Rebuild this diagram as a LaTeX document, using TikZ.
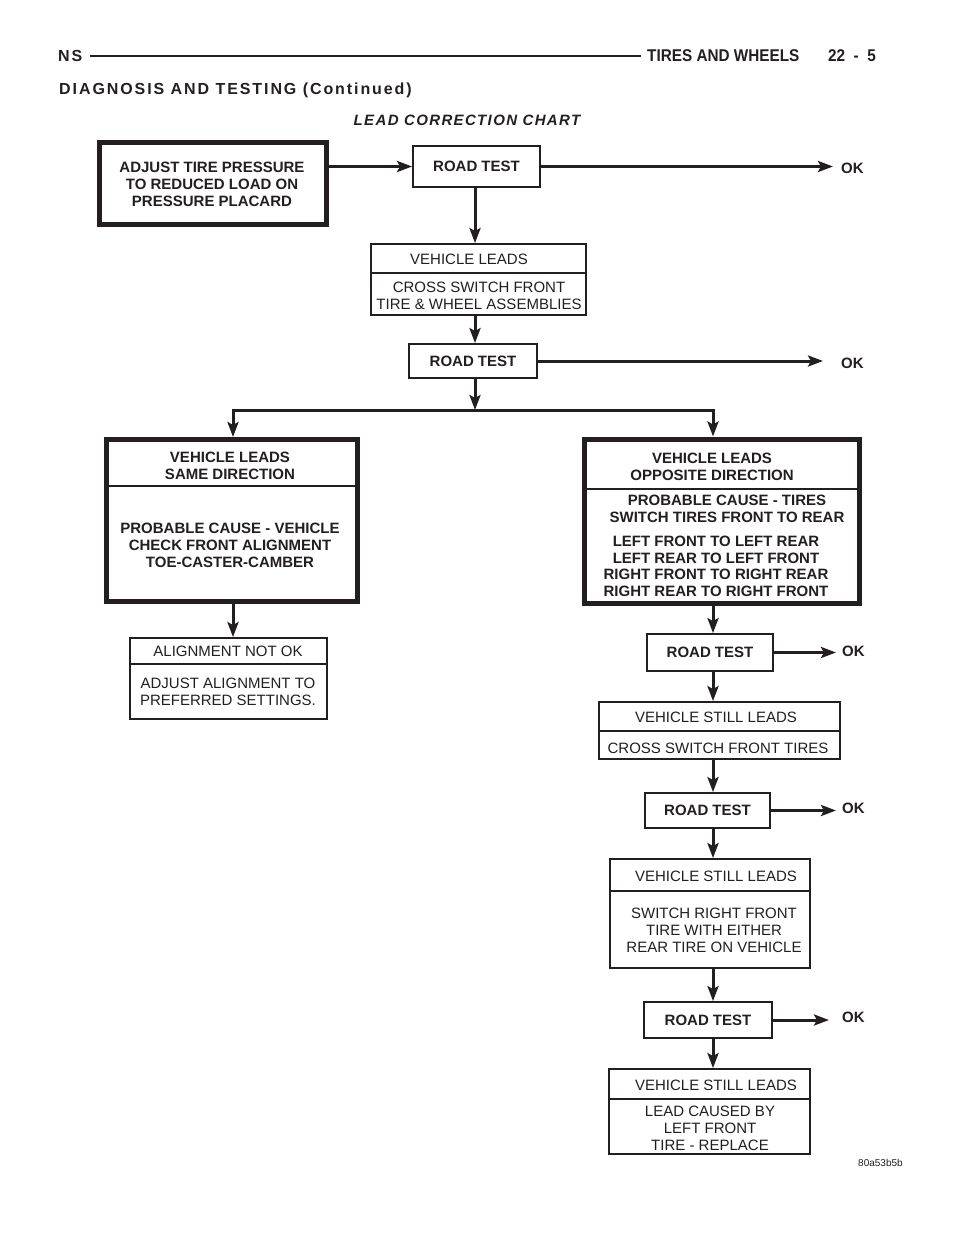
\documentclass[tikz,border=0pt]{standalone}
\usepackage{fontspec}
\setmainfont{Liberation Sans}
\newfontfamily\hdrfont[LetterSpace=12]{Liberation Sans}
\newfontfamily\condfont[FakeStretch=0.9]{Liberation Sans}
\newfontfamily\titfont[LetterSpace=9]{Liberation Sans}
\usetikzlibrary{arrows.meta}
\definecolor{ink}{HTML}{231F20}
\tikzset{
  thinbox/.style={draw=ink, line width=1.8pt, inner sep=0pt},
  thickbox/.style={draw=ink, line width=5pt, inner sep=0pt},
  rt/.style={thinbox, text=ink, font=\fontsize{15}{17}\selectfont\bfseries},
  txt/.style={font=\fontsize{15}{17}\selectfont, align=center, inner sep=0pt, text=ink},
  btxt/.style={txt, font=\fontsize{15}{17}\selectfont\bfseries},
  arr/.style={draw=ink, line width=3pt, -{Stealth[length=15pt,width=11pt,inset=3pt]}},
  ln/.style={draw=ink, line width=3pt},
  divider/.style={draw=ink, line width=1.8pt},
  ok/.style={font=\fontsize{15}{17}\selectfont\bfseries, text=ink, inner sep=0pt, anchor=west},
  hdr/.style={font=\hdrfont\bfseries\fontsize{16}{18}\selectfont, text=ink, inner sep=0pt, anchor=base west},
  cond/.style={font=\condfont\bfseries\fontsize{17}{19}\selectfont, text=ink, inner sep=0pt, anchor=base west},
}
\begin{document}
\begin{tikzpicture}[x=1pt,y=-1pt]
\useasboundingbox (0,0) rectangle (960,1242);
\fill[white] (0,0) rectangle (960,1242);

% ---- header ----
\node[hdr] (ns) at (58,61) {NS};
\node[cond] (tw) at (647,61) {TIRES AND WHEELS};
\node[cond] (pg) at (828,61) {22\enspace-\enspace5};
\draw[ink, line width=1.8pt, shorten <=7pt, shorten >=6pt] (ns.east |- 0,56) -- (tw.west |- 0,56);
\node[hdr] (diag) at (59,94) {DIAGNOSIS AND TESTING (Continued)};
\node[font=\titfont\bfseries\itshape\fontsize{15}{17}\selectfont, text=ink, inner sep=0pt, anchor=base] (title) at (467,125.5) {LEAD CORRECTION CHART};

% ---- column positions ----
\coordinate (cM) at (475,0);
\coordinate (cR) at (713,0);
\coordinate (J) at (475,410);
\coordinate (JL) at (233,410);
\coordinate (JR) at (713,410);

% ---- boxes ----
\node[thickbox, minimum width=227pt, minimum height=82pt] (A) at (213,183.5) {};
\node[btxt] (Atx) at (212,184) {ADJUST TIRE PRESSURE\\TO REDUCED LOAD ON\\PRESSURE PLACARD};

\node[rt, minimum width=127pt, minimum height=41pt] (RT1) at (476.5,166.5) {ROAD TEST};
\node[ok] (ok1) at (841,168) {OK};

\node[thinbox, minimum width=215pt, minimum height=71pt] (VL1) at (478.5,279.5) {};
\draw[divider] (VL1.west |- 0,273) -- (VL1.east |- 0,273);
\node[txt] (VL1a) at (469,259) {VEHICLE LEADS};
\node[txt] (VL1b) at (479,295.5) {CROSS SWITCH FRONT\\TIRE \& WHEEL ASSEMBLIES};

\node[rt, minimum width=128pt, minimum height=34pt] (RT2) at (473,361) {ROAD TEST};
\node[ok] (ok2) at (841,363) {OK};

\node[thickbox, minimum width=251pt, minimum height=162pt] (L) at (232,520.5) {};
\draw[divider] (L.west |- 0,486) -- (L.east |- 0,486);
\node[btxt] (La) at (230,466) {VEHICLE LEADS\\SAME DIRECTION};
\node[btxt] (Lb) at (230,545) {PROBABLE CAUSE - VEHICLE\\CHECK FRONT ALIGNMENT\\TOE-CASTER-CAMBER};

\node[thickbox, minimum width=275pt, minimum height=164pt] (R) at (722,521) {};
\draw[divider] (R.west |- 0,489) -- (R.east |- 0,489);
\node[btxt] (Ra) at (712,466.5) {VEHICLE LEADS\\OPPOSITE DIRECTION};
\node[btxt] (Rb) at (727,508.5) {PROBABLE CAUSE - TIRES\\SWITCH TIRES FRONT TO REAR};
\node[btxt, font=\fontsize{15}{16.5}\selectfont\bfseries] (Rc) at (716,566.5) {LEFT FRONT TO LEFT REAR\\LEFT REAR TO LEFT FRONT\\RIGHT FRONT TO RIGHT REAR\\RIGHT REAR TO RIGHT FRONT};

\node[thinbox, minimum width=197pt, minimum height=81pt] (AL) at (228.5,678.5) {};
\draw[divider] (AL.west |- 0,664) -- (AL.east |- 0,664);
\node[txt] (ALa) at (228,651) {ALIGNMENT NOT OK};
\node[txt] (ALb) at (228,691.5) {ADJUST ALIGNMENT TO\\PREFERRED SETTINGS.};

\node[rt, minimum width=126pt, minimum height=37pt] (RT3) at (710,652.5) {ROAD TEST};
\node[ok] (ok3) at (842,651) {OK};

\node[thinbox, minimum width=241pt, minimum height=57pt] (V1) at (719.5,730.5) {};
\draw[divider] (V1.west |- 0,731) -- (V1.east |- 0,731);
\node[txt] (V1a) at (716,717) {VEHICLE STILL LEADS};
\node[txt] (V1b) at (718,748) {CROSS SWITCH FRONT TIRES};

\node[rt, minimum width=125pt, minimum height=35pt] (RT4) at (707.5,810.5) {ROAD TEST};
\node[ok] (ok4) at (842,808) {OK};

\node[thinbox, minimum width=200pt, minimum height=109pt] (V2) at (710,913.5) {};
\draw[divider] (V2.west |- 0,891) -- (V2.east |- 0,891);
\node[txt] (V2a) at (716,876) {VEHICLE STILL LEADS};
\node[txt] (V2b) at (714,930) {SWITCH RIGHT FRONT\\TIRE WITH EITHER\\REAR TIRE ON VEHICLE};

\node[rt, minimum width=128pt, minimum height=36pt] (RT5) at (708,1020) {ROAD TEST};
\node[ok] (ok5) at (842,1017) {OK};

\node[thinbox, minimum width=201pt, minimum height=85pt] (V3) at (709.5,1111.5) {};
\draw[divider] (V3.west |- 0,1099) -- (V3.east |- 0,1099);
\node[txt] (V3a) at (716,1085) {VEHICLE STILL LEADS};
\node[txt] (V3b) at (710,1128.5) {LEAD CAUSED BY\\LEFT FRONT\\TIRE - REPLACE};

\node[font=\fontsize{10}{12}\selectfont, text=ink, anchor=west, inner sep=0pt] (tag) at (858,1163) {80a53b5b};

% ---- connectors ----
\draw[arr] (A.east |- RT1.west) -- (RT1.west);
\draw[arr, shorten >=8pt] (RT1.east) -- (RT1.east -| ok1.west);
\draw[arr] (cM |- RT1.south) -- (cM |- VL1.north);
\draw[arr] (cM |- VL1.south) -- (cM |- RT2.north);
\draw[arr, shorten >=18pt] (RT2.east) -- (RT2.east -| ok2.west);
\draw[arr] (cM |- RT2.south) -- (J);
\draw[arr] (J) -- (JL) -- (JL |- L.north);
\draw[arr] (J) -- (JR) -- (JR |- R.north);
\draw[arr] (JL |- L.south) -- (JL |- AL.north);
\draw[arr] (cR |- R.south) -- (cR |- RT3.north);
\draw[arr, shorten >=6pt] (RT3.east) -- (RT3.east -| ok3.west);
\draw[arr] (cR |- RT3.south) -- (cR |- V1.north);
\draw[arr] (cR |- V1.south) -- (cR |- RT4.north);
\draw[arr, shorten >=6pt] (RT4.east) -- (RT4.east -| ok4.west);
\draw[arr] (cR |- RT4.south) -- (cR |- V2.north);
\draw[arr] (cR |- V2.south) -- (cR |- RT5.north);
\draw[arr, shorten >=13pt] (RT5.east) -- (RT5.east -| ok5.west);
\draw[arr] (cR |- RT5.south) -- (cR |- V3.north);
\end{tikzpicture}
\end{document}
